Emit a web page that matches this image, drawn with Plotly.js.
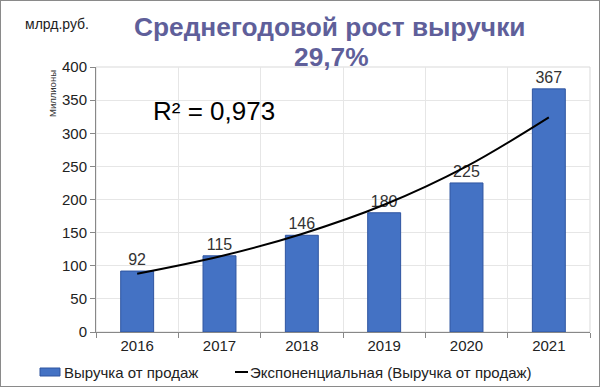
<!DOCTYPE html>
<html><head><meta charset="utf-8">
<script src="https://cdn.plot.ly/plotly-3.0.1.min.js"></script>
<style>html,body{margin:0;padding:0;background:#fff}#c{width:600px;height:387px;box-sizing:border-box;border:1px solid #8a8a8a}</style>
</head><body><div id="c"></div>
<script>
const years = ['2016','2017','2018','2019','2020','2021'];
const revenue = [92, 115, 146, 180, 225, 367];
const trend = [88, 114, 148, 192, 250, 324];
const yTicks = [0, 50, 100, 150, 200, 250, 300, 350, 400];
const seriesNames = ['Выручка от продаж', 'Экспоненциальная (Выручка от продаж)'];

const font = 'Liberation Sans, Arial, sans-serif';
// plot area: 95..589 px horizontally, 66..331 px vertically
const L = 95, W = 494, B = 331, H = 265;
const px = v => (v - L) / W, py = v => (B - v) / H;

const data = [
  {type:'bar', x:years, y:revenue, name:seriesNames[0], width:0.4,
   marker:{color:'#4472C4', line:{color:'#2F55A0', width:1}},
   text:revenue.map(String), textposition:'outside', cliponaxis:false,
   textfont:{family:font, size:16, color:'#333'}},
  {type:'scatter', mode:'lines', x:years, y:trend, name:seriesNames[1],
   line:{color:'#000', width:2, shape:'spline'}}
];
const layout = {
  width:598, height:385,
  margin:{l:95, r:9, t:66, b:54, autoexpand:false},
  paper_bgcolor:'#fff', plot_bgcolor:'#fff',
  font:{family:font, color:'#222'},
  bargap:0.6,
  xaxis:{type:'category', tickson:'boundaries', ticks:'outside', ticklen:5, tickcolor:'#888',
    showline:true, linecolor:'#888', showgrid:true, gridcolor:'#e6e6e6',
    tickfont:{family:font, size:15, color:'#222'}},
  yaxis:{range:[0,400], tickvals:yTicks, ticks:'outside', ticklen:5, tickcolor:'#888',
    showline:true, linecolor:'#888', gridcolor:'#e6e6e6', zeroline:false,
    tickfont:{family:font, size:15, color:'#222'}},
  showlegend:false,
  shapes:[
    {type:'rect', xref:'paper', yref:'paper', x0:0, x1:1, y0:0, y1:1, line:{color:'#d9d9d9', width:1}, layer:'below'},
    {type:'rect', xref:'paper', yref:'paper', x0:px(39), x1:px(59), y0:py(375), y1:py(367), fillcolor:'#4472C4', line:{color:'#2F55A0', width:1}},
    {type:'line', xref:'paper', yref:'paper', x0:px(234), x1:px(247), y0:py(371), y1:py(371), line:{color:'#000', width:2}}
  ],
  annotations:[
    {text:'<b>Среднегодовой рост выручки</b>', xref:'paper', yref:'paper', x:px(328), y:py(26), xanchor:'center', yanchor:'middle', showarrow:false,
     font:{family:font, size:26.3, color:'#5F5F9A'}},
    {text:'<b>29,7%</b>', xref:'paper', yref:'paper', x:px(330), y:py(56), xanchor:'center', yanchor:'middle', showarrow:false,
     font:{family:font, size:26.3, color:'#5F5F9A'}},
    {text:'млрд.руб.', xref:'paper', yref:'paper', x:px(22), y:py(23), xanchor:'left', yanchor:'middle', showarrow:false,
     font:{family:font, size:14, color:'#222'}},
    {text:'Миллионы', xref:'paper', yref:'paper', x:px(51), y:py(93), xanchor:'center', yanchor:'middle', showarrow:false, textangle:-90,
     font:{family:font, size:9.5, color:'#333'}},
    {text:'R² = 0,973', xref:'paper', yref:'paper', x:px(213), y:py(110), xanchor:'center', yanchor:'middle', showarrow:false,
     font:{family:font, size:26, color:'#000'}},
    {text:seriesNames[0], xref:'paper', yref:'paper', x:px(61), y:py(371), xanchor:'left', yanchor:'middle', showarrow:false,
     font:{family:font, size:15, color:'#222'}},
    {text:seriesNames[1], xref:'paper', yref:'paper', x:px(247), y:py(371), xanchor:'left', yanchor:'middle', showarrow:false,
     font:{family:font, size:15, color:'#222'}}
  ]
};
Plotly.newPlot('c', data, layout, {displayModeBar:false, staticPlot:true});
</script></body></html>
